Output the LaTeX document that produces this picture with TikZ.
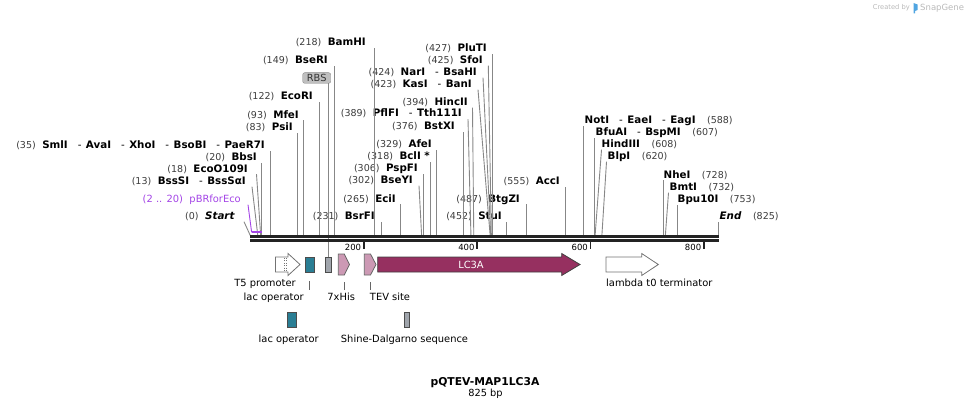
\documentclass[tikz,border=0pt]{standalone}
\usepackage{fontspec}
\setmainfont{DejaVu Sans}
\usetikzlibrary{positioning}

\definecolor{bbone}{RGB}{35,35,35}
\definecolor{numgray}{RGB}{60,60,60}
\definecolor{cutgray}{RGB}{135,135,135}
\definecolor{primer}{RGB}{163,68,230}
\definecolor{lcthree}{RGB}{150,48,96}
\definecolor{tagpink}{RGB}{204,153,180}
\definecolor{opteal}{RGB}{42,126,148}
\definecolor{sdgray}{RGB}{160,165,172}
\definecolor{wmark}{RGB}{185,185,185}
\definecolor{wmblue}{RGB}{80,165,225}

\newcommand\cutat[1]{{\mdseries\fontsize{9.5}{11}\selectfont\color{numgray}(#1)}}
\newcommand\alsocut{\hspace{10pt}{\mdseries -}\hspace{4.5pt}}

\tikzset{
  site/.style = {inner sep=0pt, text height=7pt, text depth=2pt, yshift=-1pt,
                 font=\fontsize{10.3}{12}\selectfont\bfseries},
  lsite/.style = {site, anchor=east},
  rsite/.style = {site, anchor=west},
  cutline/.style = {draw=cutgray, line width=0.9pt},
  featlbl/.style = {inner sep=0pt, text height=7pt, text depth=2pt, yshift=-1pt,
                    font=\fontsize{9.9}{12}\selectfont},
  featbox/.style = {draw=black!70, line width=0.8pt, minimum width=#1,
                    minimum height=15pt, inner sep=0pt},
  featbox/.default = 9pt,
  leader/.style = {draw=black!60, line width=0.8pt},
  rbs/.style = {draw=black!45, fill=black!25, rounded corners=2pt, inner sep=0pt,
                minimum width=28pt, minimum height=10.6pt,
                font=\fontsize{9.8}{11}\selectfont, text=black!80}
}

\begin{document}
\begin{tikzpicture}[x=1pt, y=-1pt]
	\def \xo{250.5}   % bp 0
	\def \bp{0.5667}  % pt per bp
	\def \bbtop{236}  % top of backbone

	\useasboundingbox (0,0) rectangle (971,409);

	% Watermark
	\node[font=\fontsize{6.7}{8}\selectfont, text=wmark, anchor=east, inner sep=0pt] (madeby) at (910,8) {Created by};
	\fill[wmblue] (913.5,3) -- (917.5,4.5) -- (917.5,10) -- (915,11) -- (915,13.5) -- (913.5,13.5) -- cycle;
	\node[font=\fontsize{8.5}{10}\selectfont, text=wmark, anchor=west, inner sep=0pt] (snapgene) at (920,8) {SnapGene};

	% Cut positions
	\coordinate (c0)   at ({\xo},\bbtop);
	\coordinate (c13)  at ({\xo+13*\bp},\bbtop);
	\coordinate (c18)  at ({\xo+18*\bp},\bbtop);
	\coordinate (c20)  at ({\xo+20*\bp},\bbtop);
	\coordinate (c35)  at ({\xo+35*\bp},\bbtop);
	\coordinate (c83)  at ({\xo+83*\bp},\bbtop);
	\coordinate (c93)  at ({\xo+93*\bp},\bbtop);
	\coordinate (c122) at ({\xo+122*\bp},\bbtop);
	\coordinate (c149) at ({\xo+149*\bp},\bbtop);
	\coordinate (c218) at ({\xo+218*\bp},\bbtop);
	\coordinate (c231) at ({\xo+231*\bp},\bbtop);
	\coordinate (c265) at ({\xo+265*\bp},\bbtop);
	\coordinate (c302) at ({\xo+302*\bp},\bbtop);
	\coordinate (c306) at ({\xo+306*\bp},\bbtop);
	\coordinate (c318) at ({\xo+318*\bp},\bbtop);
	\coordinate (c329) at ({\xo+329*\bp},\bbtop);
	\coordinate (c376) at ({\xo+376*\bp},\bbtop);
	\coordinate (c389) at ({\xo+389*\bp},\bbtop);
	\coordinate (c394) at ({\xo+394*\bp},\bbtop);
	\coordinate (c423) at ({\xo+423*\bp},\bbtop);
	\coordinate (c424) at ({\xo+424*\bp},\bbtop);
	\coordinate (c425) at ({\xo+425*\bp},\bbtop);
	\coordinate (c427) at ({\xo+427*\bp},\bbtop);
	\coordinate (c452) at ({\xo+452*\bp},\bbtop);
	\coordinate (c487) at ({\xo+487*\bp},\bbtop);
	\coordinate (c555) at ({\xo+555*\bp},\bbtop);
	\coordinate (c588) at ({\xo+588*\bp},\bbtop);
	\coordinate (c607) at ({\xo+607*\bp},\bbtop);
	\coordinate (c608) at ({\xo+608*\bp},\bbtop);
	\coordinate (c620) at ({\xo+620*\bp},\bbtop);
	\coordinate (c728) at ({\xo+728*\bp},\bbtop);
	\coordinate (c732) at ({\xo+732*\bp},\bbtop);
	\coordinate (c753) at ({\xo+753*\bp},\bbtop);
	\coordinate (c825) at ({\xo+825*\bp},\bbtop);

	% Enzymes, label left of the cut
	\node[lsite] (bamhi)  at (366,42)    {\cutat{218}\hspace{6.5pt}BamHI};
	\node[lsite] (bseri)  at (328,60)    {\cutat{149}\hspace{6.5pt}BseRI};
	\node[lsite] (ecori)  at (313,96)    {\cutat{122}\hspace{6.5pt}EcoRI};
	\node[lsite] (mfei)   at (299,114.5) {\cutat{93}\hspace{6.5pt}MfeI};
	\node[lsite] (psii)   at (293,127)   {\cutat{83}\hspace{6.5pt}PsiI};
	\node[lsite] (smli)   at (265,145)   {\cutat{35}\hspace{6.5pt}SmlI\alsocut AvaI\alsocut XhoI\alsocut BsoBI\alsocut PaeR7I};
	\node[lsite] (bbsi)   at (257,157)   {\cutat{20}\hspace{6.5pt}BbsI};
	\node[lsite] (ecoo)   at (248,168.5) {\cutat{18}\hspace{6.5pt}EcoO109I};
	\node[lsite] (bsssi)  at (246,181)   {\cutat{13}\hspace{6.5pt}BssSI\alsocut BssSαI};
	\node[lsite, text=primer, font=\fontsize{9.9}{12}\selectfont] (pbr) at (241,199) {(2 .. 20)\hspace{6.5pt}pBRforEco};
	\node[lsite] (start)  at (235,216)   {\cutat{0}\hspace{6.5pt}\textit{Start}};

	\node[lsite] (bsrfi)  at (375,216)   {\cutat{231}\hspace{6.5pt}BsrFI};
	\node[lsite] (ecii)   at (396,198.5) {\cutat{265}\hspace{6.5pt}EciI};
	\node[lsite] (bseyi)  at (413,180)   {\cutat{302}\hspace{6.5pt}BseYI};
	\node[lsite] (pspfi)  at (418,168)   {\cutat{306}\hspace{6.5pt}PspFI};
	\node[lsite] (bcli)   at (430,156)   {\cutat{318}\hspace{6.5pt}BclI *};
	\node[lsite] (afei)   at (432,144)   {\cutat{329}\hspace{6.5pt}AfeI};
	\node[lsite] (pflfi)  at (462,113.5) {\cutat{389}\hspace{6.5pt}PflFI\alsocut Tth111I};
	\node[lsite] (hincii) at (468,102)   {\cutat{394}\hspace{6.5pt}HincII};
	\node[lsite] (bstxi)  at (455,126)   {\cutat{376}\hspace{6.5pt}BstXI};
	\node[lsite] (kasi)   at (472,84)    {\cutat{423}\hspace{6.5pt}KasI\alsocut BanI};
	\node[lsite] (nari)   at (477,72)    {\cutat{424}\hspace{6.5pt}NarI\alsocut BsaHI};
	\node[lsite] (sfoi)   at (483,60)    {\cutat{425}\hspace{6.5pt}SfoI};
	\node[lsite] (pluti)  at (487,48)    {\cutat{427}\hspace{6.5pt}PluTI};
	\node[lsite] (btgzi)  at (520,198.5) {\cutat{487}\hspace{6.5pt}BtgZI};
	\node[lsite] (stui)   at (502,216)   {\cutat{452}\hspace{6.5pt}StuI};
	\node[lsite] (acci)   at (560,181)   {\cutat{555}\hspace{6.5pt}AccI};

	% Enzymes, label right of the cut
	\node[rsite] (noti)    at (584.5,120.5) {NotI\alsocut EaeI\alsocut EagI\hspace{11.5pt}\cutat{588}};
	\node[rsite] (bfuai)   at (595.5,132)   {BfuAI\alsocut BspMI\hspace{11.5pt}\cutat{607}};
	\node[rsite] (hindiii) at (601.5,144)   {HindIII\hspace{11.5pt}\cutat{608}};
	\node[rsite] (blpi)    at (607.5,156)   {BlpI\hspace{11.5pt}\cutat{620}};
	\node[rsite] (nhei)    at (663.5,174.5) {NheI\hspace{11.5pt}\cutat{728}};
	\node[rsite] (bmti)    at (669.5,187)   {BmtI\hspace{11.5pt}\cutat{732}};
	\node[rsite] (bpu)     at (677.5,199)   {Bpu10I\hspace{11.5pt}\cutat{753}};
	\node[rsite] (end)     at (719.5,216)   {\textit{End}\hspace{11.5pt}\cutat{825}};

	% Cut lines
	\draw[cutline] (c218) -- (c218 |- bamhi.south);
	\draw[cutline] (c149) -- (c149 |- bseri.south);
	\draw[cutline] (c122) -- (c122 |- ecori.south);
	\draw[cutline] (c93)  -- (c93 |- mfei.south);
	\draw[cutline] (c83)  -- (c83 |- psii.south);
	\draw[cutline] (c35)  -- (c35 |- smli.south);
	\draw[cutline] (c20)  -- (c20 |- bbsi.south);
	\draw[cutline] (c18)  -- ([xshift=8.5pt]ecoo.south east);
	\draw[cutline] (c13)  -- ([xshift=6pt]bsssi.south east);
	\draw[cutline] (c0)   -- ([xshift=9pt]start.south east);
	\draw[cutline] (c231) -- (c231 |- bsrfi.south);
	\draw[cutline] (c265) -- (c265 |- ecii.south);
	\draw[cutline] (c302) -- ([xshift=6pt]bseyi.south east);
	\draw[cutline] (c306) -- (c306 |- pspfi.south);
	\draw[cutline] (c318) -- (c318 |- bcli.south);
	\draw[cutline] (c329) -- (c329 |- afei.south);
	\draw[cutline] (c389) -- ([xshift=6pt]pflfi.south east);
	\draw[cutline] (c394) -- ([xshift=4.5pt]hincii.south east);
	\draw[cutline] (c376) -- (c376 |- bstxi.south);
	\draw[cutline] (c423) -- ([xshift=6pt]kasi.south east);
	\draw[cutline] (c424) -- ([xshift=6pt]nari.south east);
	\draw[cutline] (c425) -- ([xshift=5.3pt]sfoi.south east);
	\draw[cutline] (c427) -- (c427 |- pluti.south);
	\draw[cutline] (c487) -- (c487 |- btgzi.south);
	\draw[cutline] (c452) -- (c452 |- stui.south);
	\draw[cutline] (c555) -- (c555 |- acci.south);
	\draw[cutline] (c588) -- (c588 |- noti.south);
	\draw[cutline] (c607) -- (c607 |- bfuai.south);
	\draw[cutline] (c608) -- (hindiii.south west);
	\draw[cutline] (c620) -- ([xshift=-1pt]blpi.south west);
	\draw[cutline] (c728) -- (c728 |- nhei.south);
	\draw[cutline] (c732) -- ([xshift=-1pt]bmti.south west);
	\draw[cutline] (c753) -- (c753 |- bpu.south);
	\draw[cutline] (c825) -- (c825 |- end.south);

	% Primer
	\coordinate (p2)  at ({\xo+2*\bp},232.3);
	\coordinate (p20) at ({\xo+20*\bp},232.3);
	\draw[primer, line width=0.9pt] ([xshift=7pt]pbr.south east) -- (p2);
	\draw[primer, line width=1.8pt] (p2) -- (p20);

	% RBS tag and SD box
	\node[rbs] (rbs) at (316.7,78) {RBS};
	\node[featbox=6pt, fill=sdgray] (sd) at (328.7,264.5) {};
	\draw[cutline] (sd.north |- rbs.south) -- (sd.north);

	% Backbone
	\fill[bbone] (250,235.3) rectangle (719.3,238); % top strand
	\fill[bbone] (250,239.3) rectangle (719.3,242); % bottom strand

	% Ticks
	\draw[bbone, line width=1.7pt] ({\xo+200*\bp},242) -- ({\xo+200*\bp},248.5);
	\draw[bbone, line width=1.7pt] ({\xo+400*\bp},242) -- ({\xo+400*\bp},248.5);
	\draw[bbone, line width=1.7pt] ({\xo+600*\bp},242) -- ({\xo+600*\bp},248.5);
	\draw[bbone, line width=1.7pt] ({\xo+800*\bp},242) -- ({\xo+800*\bp},248.5);
	\node[font=\fontsize{8.5}{10}\selectfont, inner sep=0pt, anchor=east] (t200) at ({\xo+200*\bp-2.5},247.5) {200};
	\node[font=\fontsize{8.5}{10}\selectfont, inner sep=0pt, anchor=east] (t400) at ({\xo+400*\bp-2.5},247.5) {400};
	\node[font=\fontsize{8.5}{10}\selectfont, inner sep=0pt, anchor=east] (t600) at ({\xo+600*\bp-2.5},247.5) {600};
	\node[font=\fontsize{8.5}{10}\selectfont, inner sep=0pt, anchor=east] (t800) at ({\xo+800*\bp-2.5},247.5) {800};

	% Features
	\draw[fill=white, draw=black!55, line width=0.8pt] (275.5,257) -- (288,257) -- (288,253.5) -- (300,264.5) -- (288,275.5) -- (288,272) -- (275.5,272) -- cycle; % T5 promoter
	\draw[black!55, dotted] (284.5,258) -- (284.5,271);
	\draw[black!55, dotted] (286.5,258) -- (286.5,271);
	\node[featbox=9.5pt, fill=opteal] (lacop) at (309.7,264.5) {};
	\draw[fill=tagpink, draw=black!60, line width=0.8pt] (338.3,254) -- (344.3,254) -- (349.5,264.5) -- (344.3,275) -- (338.3,275) -- cycle; % 7xHis
	\draw[fill=tagpink, draw=black!60, line width=0.8pt] (364.3,254) -- (370.5,254) -- (376,264.5) -- (370.5,275) -- (364.3,275) -- cycle; % TEV site
	\draw[fill=lcthree, draw=black!75, line width=0.8pt] (377.7,257) -- (561.7,257) -- (561.7,253.5) -- (580,264.5) -- (561.7,275.5) -- (561.7,272) -- (377.7,272) -- cycle; % LC3A
	\node[featlbl, text=white] (lc3a) at (471,264.5) {LC3A};
	\draw[fill=white, draw=black!55, line width=0.8pt] (606,257) -- (641.7,257) -- (641.7,253.5) -- (658.3,264.5) -- (641.7,275.5) -- (641.7,272) -- (606,272) -- cycle; % lambda t0
	\coordinate (his) at (344.3,275);
	\coordinate (tev) at (370.3,275);

	% Feature labels
	\node[featlbl] (t5lbl)  at (265,283.3)   {T5 promoter};
	\node[featlbl] (oplbl)  at (273.7,296.7) {lac operator};
	\node[featlbl] (hislbl) at (341.2,296.7) {7xHis};
	\node[featlbl] (tevlbl) at (390,296.7)   {TEV site};
	\node[featlbl, anchor=west] (lamlbl) at (606,283.3) {lambda t0 terminator};
	\draw[leader] ([yshift=-8.5pt]lacop.south) -- ([yshift=3pt]lacop.south |- oplbl.north);
	\draw[leader] ([yshift=-7pt]his) -- ([yshift=3pt]his |- hislbl.north);
	\draw[leader] ([yshift=-7pt]tev) -- ([yshift=3pt]tev |- tevlbl.north);

	% Legend
	\node[featbox=9pt, fill=opteal] (legop) at (291.7,320.3) {};
	\node[featlbl, below=6.5pt of legop, xshift=-3pt] (legoplbl) {lac operator};
	\node[featbox=5pt, fill=sdgray] (legsd) at (406.8,320.3) {};
	\node[featlbl, below=6.5pt of legsd, xshift=-2.3pt] (legsdlbl) {Shine-Dalgarno sequence};

	% Title
	\node[inner sep=0pt, text height=8pt, text depth=0pt, font=\fontsize{10.8}{13}\selectfont\bfseries] (title) at (485,381.5) {pQTEV-MAP1LC3A};
	\node[inner sep=0pt, text height=7pt, text depth=0pt, font=\fontsize{9.8}{12}\selectfont] (size) at (485.5,393) {825 bp};
\end{tikzpicture}
\end{document}
